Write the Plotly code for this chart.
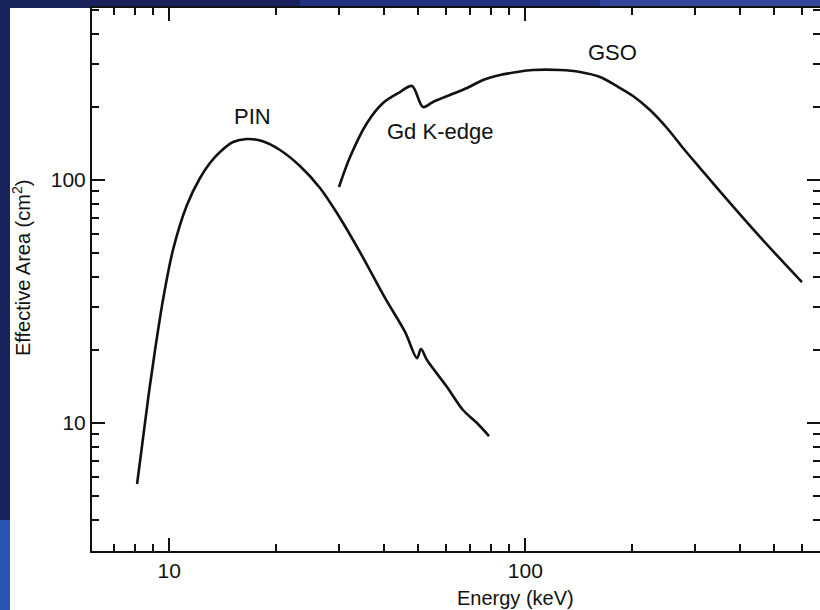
import numpy as np
import plotly.graph_objects as go

# ---- data ----
pin_energy = [8.12, 8.71, 9.12, 9.60, 10.24, 11.21, 12.20, 13.01, 13.88, 15.10, 16.53, 18.21, 20.46,
              23.28, 26.50, 30.17, 34.33, 40.36, 45.94, 49.64, 50.93, 52.95, 60.27, 66.83, 73.16, 79.07]
pin_area = [5.61, 12.43, 19.97, 32.08, 51.5, 78.9, 101.9, 117.5, 130.4, 143.3, 147.5, 144.7, 132.9,
            114.2, 92.7, 69.8, 50.5, 32.7, 23.7, 18.5, 20.16, 18.16, 14.06, 11.31, 10.0, 8.84]

gso_energy = [29.97, 32.19, 35.92, 39.84, 44.46, 48.06, 51.6, 55.05, 61.44, 68.6, 76.1, 84.9, 94.8,
              105.1, 125.2, 142.5, 162.1, 180.5, 200.7, 224.0, 250.0, 277.3, 309.6, 359.2, 456.3, 598.6]
gso_area = [93.6, 124.3, 171.6, 207.5, 230.2, 243.7, 199.7, 209.4, 223.8, 239.1, 257.9, 270.4, 278.2,
            283.5, 283.5, 278.2, 265.4, 243.7, 221.7, 194.1, 163.7, 135.4, 112.0, 86.8, 58.3, 38.0]

labels = ["PIN", "Gd K-edge", "GSO"]
label_energy = [17.1, 57.6, 175.2]
label_area = [183, 159, 336]

x_range = [0.7829, 2.8278]
y_range = [0.4733, 2.7078]

FONT = "Liberation Sans, Arial, Helvetica, sans-serif"
INK = "#111111"

fig = go.Figure()
fig.add_trace(go.Scatter(x=pin_energy, y=pin_area, mode="lines",
                         line=dict(color=INK, width=2.6, shape="spline", smoothing=0.9),
                         showlegend=False, hoverinfo="skip"))
fig.add_trace(go.Scatter(x=gso_energy, y=gso_area, mode="lines",
                         line=dict(color=INK, width=2.6, shape="spline", smoothing=0.9),
                         showlegend=False, hoverinfo="skip"))
# empty trace to carry the right-hand tick axis
fig.add_trace(go.Scatter(x=[], y=[], yaxis="y2", showlegend=False, hoverinfo="skip"))

for t, e, a in zip(labels, label_energy, label_area):
    fig.add_annotation(x=np.log10(e), y=np.log10(a), xref="x", yref="y", text=t,
                       showarrow=False, font=dict(family=FONT, size=22, color=INK))

# axis titles
fig.add_annotation(x=(515 - 92) / 728, y=(551 - 585) / 543, xref="paper", yref="paper",
                   text="Energy (keV)", showarrow=False, xanchor="center", yanchor="top",
                   font=dict(family=FONT, size=20, color=INK))
fig.add_annotation(x=(21 - 92) / 728, y=(551 - 268) / 543, xref="paper", yref="paper",
                   text="Effective Area (cm<sup>2</sup>)", showarrow=False, textangle=-90,
                   xanchor="center", yanchor="middle",
                   font=dict(family=FONT, size=20, color=INK))

# background frame: white card over a navy page
W, H = 820, 610
def px_x(p):
    return (p - 92) / 728
def px_y(p):
    return (551 - p) / 543

fig.add_shape(type="rect", xref="paper", yref="paper", x0=px_x(-5), x1=px_x(830), y0=px_y(620), y1=px_y(-5),
              fillcolor="#17235a", line_width=0, layer="below")
fig.add_shape(type="rect", xref="paper", yref="paper", x0=px_x(300), x1=px_x(600), y0=px_y(8), y1=px_y(-5),
              fillcolor="#223283", line_width=0, layer="below")
fig.add_shape(type="rect", xref="paper", yref="paper", x0=px_x(600), x1=px_x(830), y0=px_y(8), y1=px_y(-5),
              fillcolor="#34459c", line_width=0, layer="below")
fig.add_shape(type="rect", xref="paper", yref="paper", x0=px_x(-5), x1=px_x(10), y0=px_y(620), y1=px_y(520),
              fillcolor="#2a55b0", line_width=0, layer="below")
fig.add_shape(type="rect", xref="paper", yref="paper", x0=px_x(10), x1=px_x(830), y0=px_y(620), y1=px_y(8),
              fillcolor="white", line_width=0, layer="below")

minor_style = dict(ticks="inside", ticklen=7, tickwidth=2, tickcolor=INK, dtick="D1", showgrid=False)

fig.update_layout(
    width=W, height=H,
    margin=dict(l=92, r=0, t=8, b=59, pad=0),
    paper_bgcolor="#17235a",
    plot_bgcolor="white",
    xaxis=dict(type="log", range=x_range, showline=True, linecolor=INK, linewidth=2,
               mirror="ticks", ticks="inside", ticklen=13, tickwidth=2, tickcolor=INK,
               tickmode="linear", tick0=0, dtick=1, showgrid=False, zeroline=False,
               tickfont=dict(family=FONT, size=21, color=INK), minor=minor_style),
    yaxis=dict(type="log", range=y_range, showline=True, linecolor=INK, linewidth=2,
               mirror=False, ticks="inside", ticklen=13, tickwidth=2, tickcolor=INK,
               tickmode="linear", tick0=0, dtick=1, showgrid=False, zeroline=False,
               tickfont=dict(family=FONT, size=21, color=INK), minor=minor_style),
    yaxis2=dict(type="log", range=y_range, overlaying="y", side="right", anchor="x",
                showline=False, ticks="inside", ticklen=13, tickwidth=2, tickcolor=INK,
                tickmode="linear", tick0=0, dtick=1, showgrid=False, zeroline=False,
                showticklabels=False, minor=minor_style),
)

fig.write_html("out.html")
